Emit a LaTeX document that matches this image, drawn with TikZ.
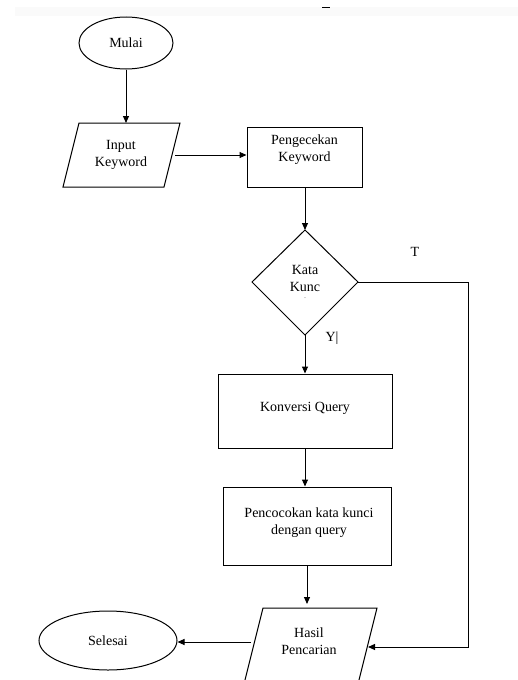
\documentclass[tikz,border=0pt]{standalone}
\usepackage{fontspec}
\setmainfont{Liberation Serif}
\usetikzlibrary{arrows.meta,shapes.geometric}
\begin{document}
\begin{tikzpicture}[x=1pt,y=-1pt,
  line width=1pt,
  lbl/.style={font=\fontsize{14}{17}\selectfont, align=center, inner sep=0pt},
  arr/.style={draw, -{Triangle[length=7pt,width=6pt]}},
  term/.style={draw, ellipse, minimum width=94pt, minimum height=52pt, font=\fontsize{14}{17}\selectfont}]
\clip (0,0) rectangle (518,680);
\fill[white] (0,0) rectangle (518,680);
\fill[black!2] (15,7) rectangle (518,16);
\draw[line width=1pt] (322,7) -- (330,7);

% Mulai
\node[term] (mulai) at (126,43) {Mulai};

% Input Keyword parallelogram
\coordinate (ik1) at (79,123);
\coordinate (ik2) at (180,123);
\coordinate (ik3) at (164,187);
\coordinate (ik4) at (63,187);
\draw (ik1) -- (ik2) -- (ik3) -- (ik4) -- cycle;
\node[lbl] (input) at (121,155) {Input\\Keyword};
\coordinate (ikTop) at (126,123);
\coordinate (ikRight) at (175,155);

% Pengecekan
\node[draw, minimum width=115pt, minimum height=60pt] (cek) at (304.5,157) {};
\node[lbl] (cektxt) at (304.5,150) {Pengecekan\\Keyword};

% Diamond
\coordinate (dT) at (305,230);
\coordinate (dL) at (252,282);
\coordinate (dR) at (358,282);
\coordinate (dB) at (305,335);
\draw (dT) -- (dR) -- (dB) -- (dL) -- cycle;
\node[lbl] (kata) at (305,278) {Kata\\Kunc};
\node[lbl, font=\fontsize{6}{6}\selectfont] (dot) at (305,298) {.};
\node[lbl] (tlab) at (415,252) {T};
\node[lbl] (ylab) at (332,338) {Y|};

% Konversi
\node[draw, minimum width=174pt, minimum height=74pt] (konv) at (305,411) {};
\node[lbl] (konvtxt) at (305,408) {Konversi Query};

% Pencocokan
\node[draw, minimum width=168pt, minimum height=78pt] (cocok) at (307,526) {};
\node[lbl] (cocoktxt) at (309,523) {Pencocokan kata kunci\\dengan query};

% Hasil parallelogram
\coordinate (h1) at (263,608);
\coordinate (h2) at (377,608);
\coordinate (h3) at (356.5,690);
\coordinate (h4) at (242.5,690);
\draw (h1) -- (h2) -- (h3) -- (h4) -- cycle;
\node[lbl] (hasil) at (309,641) {Hasil\\Pencarian};
\coordinate (hTop) at (307,604);
\coordinate (hRight) at (368,647);
\coordinate (hLeft) at (251,642);

% Selesai
\node[term, minimum width=138pt, minimum height=59pt] (selesai) at (108,640.5) {Selesai};

% connectors
\path[arr] (mulai.south) -- (ikTop);
\path[arr] (ikRight) -- (cek.west |- ikRight);
\path[arr] (cek.south -| dT) -- (dT);
\path[arr] (dB) -- (konv.north -| dB);
\path[arr] (konv.south) -- (cocok.north -| konv.south);
\path[arr] (cocok.south) -- (hTop);
\coordinate (c1) at (468,282);
\coordinate (c2) at (468,647);
\path[arr] (dR) -- (c1) -- (c2) -- (hRight);
\path[arr] (hLeft) -- (selesai.east |- hLeft);
\end{tikzpicture}
\end{document}
